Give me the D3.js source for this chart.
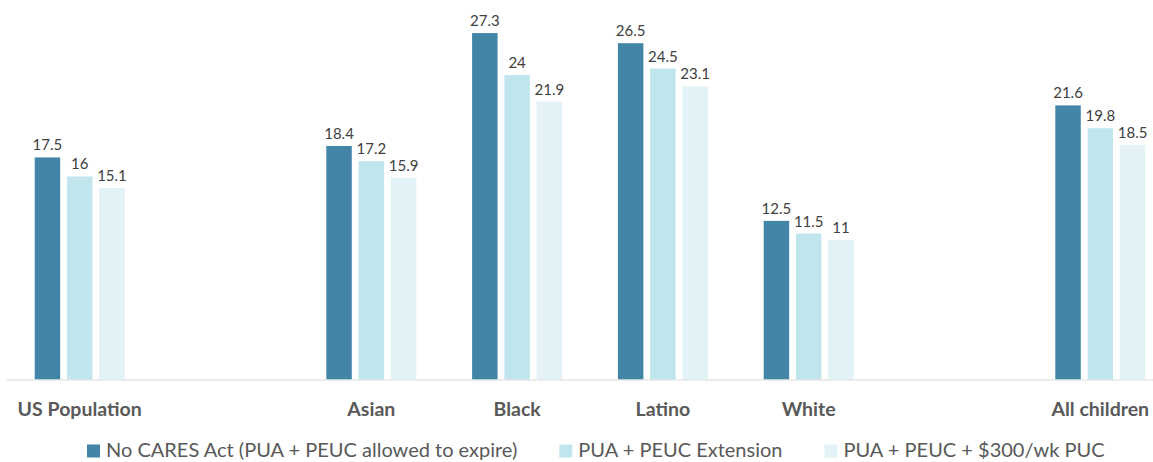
<!DOCTYPE html>
<html><head><meta charset="utf-8">
<script src="https://cdn.jsdelivr.net/npm/d3@7"></script>
<style>
html,body{margin:0;padding:0;background:#fff;}
svg{display:block;}
text{font-family:Lato,"Open Sans",sans-serif;}
</style></head>
<body>
<svg id="chart" width="1153" height="462"></svg>
<script>
// Data
const slotLabels = ["US Population", null, "Asian", "Black", "Latino", "White", null, "All children"];
const seriesNames = ["No CARES Act (PUA + PEUC allowed to expire)", "PUA + PEUC Extension", "PUA + PEUC + $300/wk PUC"];
const noCares   = [17.5, null, 18.4, 27.3, 26.5, 12.5, null, 21.6];
const extension = [16,   null, 17.2, 24,   24.5, 11.5, null, 19.8];
const withPUC   = [15.1, null, 15.9, 21.9, 23.1, 11,   null, 18.5];
const seriesValues = [noCares, extension, withPUC];
const colors = ["#4385A7", "#C0E5EC", "#E2F2F6"];

const svg = d3.select("#chart");
const W = 1153, H = 462;
const y0 = 379.5;

const x0 = d3.scaleBand().domain(d3.range(slotLabels.length)).range([6.8, 6.8 + 8 * 145.8]).padding(0);
const x1 = d3.scaleBand().domain(d3.range(seriesValues.length)).range([0, x0.bandwidth()]).paddingInner(0.21).paddingOuter(0.865);
const y = d3.scaleLinear().domain([0, 30]).range([y0, y0 - 30 * 12.69]);

// bars
const groups = svg.append("g").selectAll("g")
  .data(slotLabels.map((l, i) => i).filter(i => slotLabels[i] !== null))
  .join("g")
  .attr("transform", i => `translate(${x0(i)},0)`);

groups.selectAll("rect")
  .data(i => seriesValues.map((s, k) => ({k, v: s[i]})))
  .join("rect")
  .attr("x", d => x1(d.k))
  .attr("width", x1.bandwidth())
  .attr("y", d => y(d.v))
  .attr("height", d => y(0) - y(d.v))
  .attr("fill", d => colors[d.k]);

groups.selectAll("text.val")
  .data(i => seriesValues.map((s, k) => ({k, v: s[i]})))
  .join("text")
  .attr("class", "val")
  .attr("x", d => x1(d.k) + x1.bandwidth() / 2)
  .attr("y", d => y(d.v) - 7)
  .attr("text-anchor", "middle")
  .attr("font-size", 15)
  .attr("fill", "#404040")
  .text(d => d.v);

// axis
const axis = svg.append("g")
  .attr("transform", `translate(0,${y0})`)
  .call(d3.axisBottom(x0).tickSize(0).tickSizeOuter(0).tickFormat(i => slotLabels[i] || ""));
axis.select(".domain").attr("d", `M6.8,0.5H${W}`).attr("stroke", "#D9D9D9").attr("stroke-width", 1.2);
axis.selectAll(".tick text")
  .attr("y", 0).attr("dy", 0)
  .attr("transform", "translate(0,36.5)")
  .attr("font-size", 19.5)
  .attr("font-weight", "bold")
  .attr("font-family", "Lato, 'Open Sans', sans-serif")
  .attr("fill", "#595959");

// legend: items laid out in sequence
const legend = svg.append("g").attr("transform", "translate(87,457)");
let lx = 0;
seriesNames.forEach((name, i) => {
  const g = legend.append("g").attr("transform", `translate(${lx},0)`);
  g.append("rect").attr("y", -12.5).attr("width", 13).attr("height", 13).attr("fill", colors[i]);
  const t = g.append("text").attr("x", 19).attr("y", 0).attr("font-size", 20).attr("fill", "#595959").text(name);
  lx += 19 + t.node().getComputedTextLength() + 42;
});
</script>
</body></html>
